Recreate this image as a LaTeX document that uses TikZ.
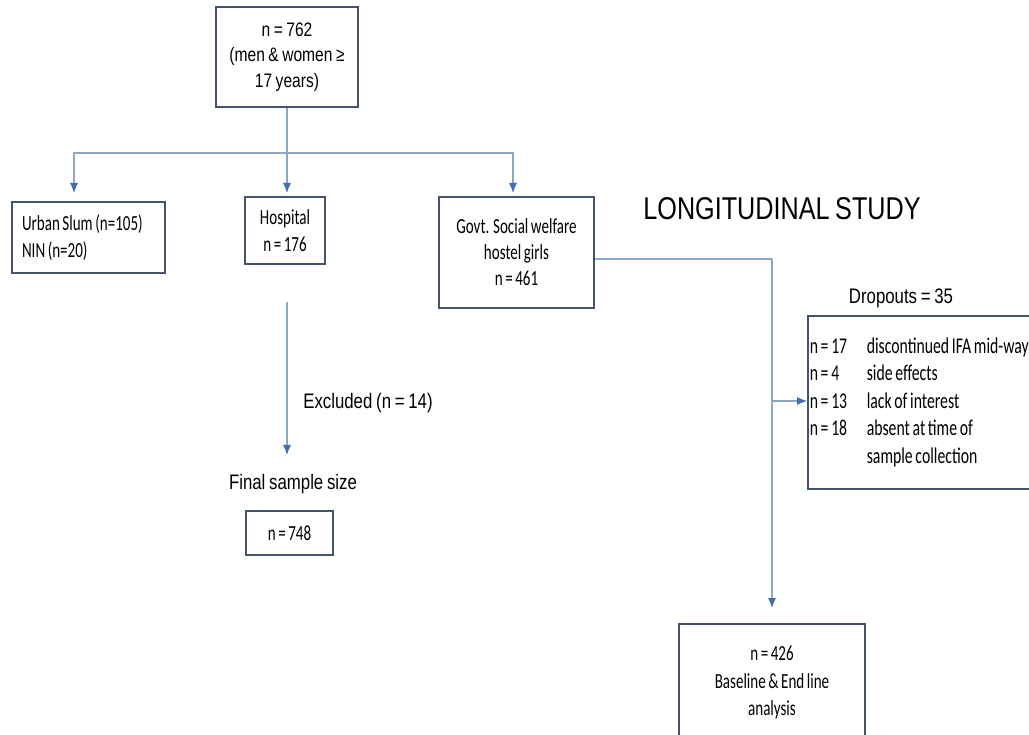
\documentclass[tikz,border=0pt]{standalone}
\usepackage{fontspec}
\setmainfont{Liberation Sans}
\newfontfamily\arialn[FakeStretch=0.8,WordSpace=0.8]{Liberation Sans}
\newfontfamily\calibn[FakeStretch=0.7,WordSpace=0.75]{Carlito}
\usetikzlibrary{arrows.meta}
\definecolor{boxline}{RGB}{68,84,106}
\definecolor{connline}{RGB}{143,165,196}
\definecolor{tipblue}{RGB}{68,110,170}

\begin{document}
\begin{tikzpicture}[
  x=1pt,y=-1pt,
  >={Latex[length=10pt,width=8pt,color=tipblue]},
  box/.style={draw=boxline,line width=1.6pt,inner sep=0pt,align=center,
    font=\calibn\fontsize{21.5}{27}\selectfont},
  conn/.style={draw=connline,line width=1.1pt},
  arr/.style={conn,->},
  head/.style={font=\arialn\fontsize{21}{26}\selectfont}
]
  \fill[white] (0,0) rectangle (1029,735);
  \useasboundingbox (0,0) rectangle (1029,735);

  \node[box,minimum width=142pt,minimum height=100pt,
    font=\arialn\fontsize{19.5}{25.5}\selectfont] (top) at (287,57)
    {n = 762\\(men \& women ≥\\17 years)};
  \node[box,minimum width=153pt,minimum height=71pt,text width=133pt,
    align=flush left] (slum) at (88.5,237.5) {Urban Slum (n=105)\\NIN (n=20)};
  \node[box,minimum width=80pt,minimum height=67pt] (hosp) at (285,230.5)
    {Hospital\\n = 176};
  \node[box,minimum width=155pt,minimum height=111pt,
    font=\calibn\fontsize{21.5}{26}\selectfont] (govt) at (516.5,252.5)
    {Govt. Social welfare\\hostel girls\\n = 461};
  \node[box,anchor=west,align=flush left,text width=229pt,inner xsep=2pt,
    minimum height=173pt,font=\calibn\fontsize{22.5}{27.5}\selectfont]
    (drop) at (807,402.5)
    {\makebox[57pt][l]{n = 17}discontinued IFA mid-way\\
     \makebox[57pt][l]{n = 4}side effects\\
     \makebox[57pt][l]{n = 13}lack of interest\\
     \makebox[57pt][l]{n = 18}absent at time of\\
     \makebox[57pt][l]{}sample collection};
  \node[box,minimum width=87pt,minimum height=44pt] (final) at (289.5,533)
    {n = 748};
  \node[box,anchor=north,minimum width=186pt,minimum height=118pt,
    font=\calibn\fontsize{21.5}{27.5}\selectfont] (base) at (772,623)
    {n = 426\\Baseline \& End line\\analysis};

  \node[font=\arialn\fontsize{31.5}{36}\selectfont] (long) at (782,209)
    {LONGITUDINAL STUDY};
  \node[head] (drophead) at (901,298) {Dropouts = 35};
  \node[head] (excl) at (368,403) {Excluded (n = 14)};
  \node[head] (finalhead) at (293,484) {Final sample size};

  \coordinate (split) at (287,153);
  \coordinate (tipslum) at (74,193);
  \coordinate (tiphosp) at (287,193);
  \coordinate (tipgovt) at (513,193);
  \coordinate (exclfrom) at (287,302);
  \coordinate (excltip) at (287,455);
  \coordinate (bend) at (772,259);
  \coordinate (fork) at (772,401);
  \coordinate (basetip) at (772,608);

  \draw[conn] (top.south) -- (split);
  \draw[arr] (split) -| (tipslum);
  \draw[arr] (split) -- (tiphosp);
  \draw[arr] (split) -| (tipgovt);
  \draw[arr] (exclfrom) -- (excltip);
  \draw[conn] (govt.east |- bend) -- (bend);
  \draw[arr] (bend) -- (basetip);
  \draw[arr] (fork) -- (drop.west |- fork);
\end{tikzpicture}
\end{document}
